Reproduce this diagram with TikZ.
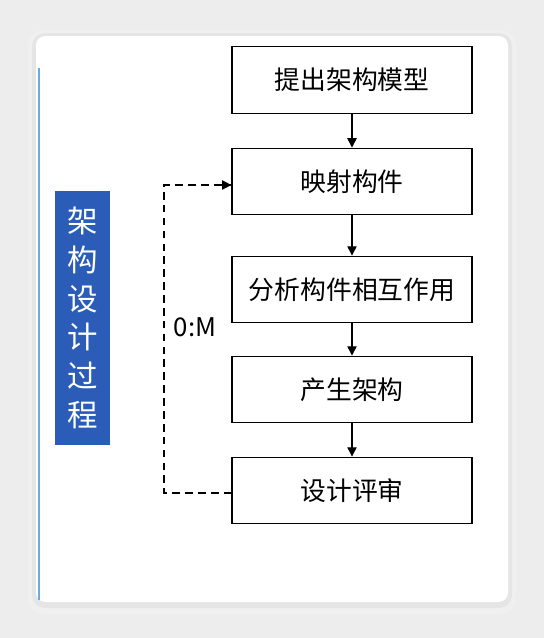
\documentclass[tikz,border=0pt]{standalone}
\usepackage{fontspec}
\setmainfont{Noto Sans CJK SC}
\usetikzlibrary{arrows.meta,positioning}
\definecolor{pagebg}{HTML}{EDEDED}
\definecolor{labelblue}{HTML}{2B5DB8}
\definecolor{edgeblue}{HTML}{6AAAE0}

\begin{document}
\begin{tikzpicture}[x=0.03cm, y=-0.03cm,
  stage/.style={draw, line width=1pt, minimum width=7.2cm, minimum height=2cm, font=\fontsize{22}{26}\selectfont},
  flow/.style={-{Triangle[length=2.8mm, width=2.8mm]}, line width=0.9pt},
  back/.style={dash pattern=on 6.5pt off 4.5pt, line width=0.9pt}
]
% page and card
\fill[pagebg] (0,0) rectangle (544,638);
\fill[black!6, rounded corners=14pt] (28,30) rectangle (516,614);
\fill[black!10, rounded corners=11pt] (32,33) rectangle (512,608);
\fill[white, rounded corners=8pt] (36,36) rectangle (508,602);
\useasboundingbox (0,0) rectangle (544,638);
\draw[edgeblue, line width=1.2pt] (39,68) -- (39,600);

% label
\node[fill=labelblue, text=white, minimum width=1.65cm, minimum height=7.6cm, inner sep=0pt,
  align=center, font=\fontsize{26}{33}\selectfont] (title) at (82.5,318) {架\\构\\设\\计\\过\\程};

% steps
\node[stage] (model) at (352,80) {提出架构模型};
\node[stage] (map) at (352,181.5) {映射构件};
\node[stage] (inter) at (352,289.5) {分析构件相互作用};
\node[stage] (arch) at (352,389.5) {产生架构};
\node[stage] (review) at (352,490.5) {设计评审};

\draw[flow] (model) -- (map);
\draw[flow] (map) -- (inter);
\draw[flow] (inter) -- (arch);
\draw[flow] (arch) -- (review);

% iteration
\coordinate (lowturn) at (164,493);
\coordinate (upturn) at (164,185);
\draw[back] (review.west |- lowturn) -- (lowturn) -- (upturn) -- (upturn -| map.west);
\draw[flow] ([xshift=-0.35cm]upturn -| map.west) -- (upturn -| map.west);
\node[font=\fontsize{22}{26}\selectfont] (ratio) at (195,327) {0:M};
\end{tikzpicture}
\end{document}
